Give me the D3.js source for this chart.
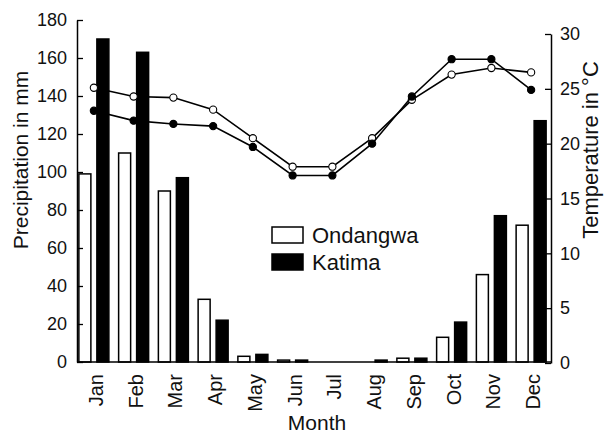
<!DOCTYPE html>
<html>
<head>
<meta charset="utf-8">
<script src="https://cdn.jsdelivr.net/npm/d3@7"></script>
<style>
  body { margin: 0; background: #fff; }
  text { font-family: "Liberation Sans", Arial, sans-serif; fill: #111; }
</style>
</head>
<body>
<svg width="605" height="433"></svg>
<script>
// data
var months = ["Jan", "Feb", "Mar", "Apr", "May", "Jun", "Jul", "Aug", "Sep", "Oct", "Nov", "Dec"];
var stations = ["Ondangwa", "Katima"];
var rainOndangwa = [99, 110, 90, 33, 3, 1, 0, 0, 2, 13, 46, 72];
var rainKatima = [170, 163, 97, 22, 4, 1, 0, 1, 2, 21, 77, 127];
var tempOndangwa = [25.1, 24.3, 24.2, 23.1, 20.5, 17.9, 17.9, 20.5, 24.0, 26.3, 26.9, 26.5];
var tempKatima = [23.0, 22.1, 21.8, 21.6, 19.7, 17.1, 17.1, 20.0, 24.3, 27.7, 27.7, 24.9];
var rainTicks = [0, 20, 40, 60, 80, 100, 120, 140, 160, 180];
var tempTicks = [0, 5, 10, 15, 20, 25, 30];

var svg = d3.select("svg");
var left = 77, right = 551, bottom = 362;

// scales
var x = d3.scaleBand().domain(months).range([74, right]);
var xs = d3.scaleBand().domain(stations)
    .range([x.bandwidth() / 2 - 15, x.bandwidth() / 2 + 15])
    .paddingInner(1 / 3);
var yRain = d3.scaleLinear().domain([0, 180]).range([bottom, 20]);
var yTemp = d3.scaleLinear().domain([0, 30]).range([bottom + 1, 34]);

var rows = months.map(function(m, i) {
  return { month: m, Ondangwa: rainOndangwa[i], Katima: rainKatima[i] };
});

// bars
var groups = svg.append("g").selectAll("g")
    .data(rows)
    .enter().append("g")
    .attr("transform", function(d) { return "translate(" + x(d.month) + ",0)"; });

groups.selectAll("rect")
    .data(function(d) { return stations.map(function(s) { return { key: s, value: d[s] }; }); })
    .enter().append("rect")
    .filter(function(d) { return d.value > 0; })
    .attr("x", function(d) { return xs(d.key); })
    .attr("width", xs.bandwidth())
    .attr("y", function(d) { return yRain(d.value); })
    .attr("height", function(d) { return bottom - yRain(d.value); })
    .attr("fill", function(d) { return d.key === "Katima" ? "#000" : "#fff"; })
    .attr("stroke", "#000")
    .attr("stroke-width", 1.5);

// temperature lines
var cx = function(d, i) { return x(months[i]) + x.bandwidth() / 2; };
var line = d3.line()
    .x(cx)
    .y(function(d) { return yTemp(d); });

[[tempOndangwa, "#fff"], [tempKatima, "#000"]].forEach(function(s) {
  svg.append("path")
      .datum(s[0])
      .attr("d", line)
      .attr("fill", "none")
      .attr("stroke", "#000")
      .attr("stroke-width", 1.6);
  svg.append("g").selectAll("circle")
      .data(s[0])
      .enter().append("circle")
      .attr("cx", cx)
      .attr("cy", function(d) { return yTemp(d); })
      .attr("r", 3.6)
      .attr("fill", s[1])
      .attr("stroke", "#000")
      .attr("stroke-width", 1.1);
});

// left axis, ticks point inward
var gl = svg.append("g").attr("transform", "translate(" + left + ",0)");
gl.call(d3.axisLeft(yRain).tickValues(d3.range(0, 181, 10)).tickFormat("").tickSize(-3).tickSizeOuter(0));
gl.call(d3.axisLeft(yRain).tickValues(rainTicks).tickSize(-6).tickSizeOuter(0).tickPadding(10));

// right axis
var gr = svg.append("g").attr("transform", "translate(" + right + ",0)");
gr.call(d3.axisRight(yTemp).tickValues(d3.range(0, 30.1, 2.5)).tickFormat("").tickSize(-3).tickSizeOuter(0));
gr.call(d3.axisRight(yTemp).tickValues(tempTicks).tickSize(-6).tickSizeOuter(0).tickPadding(9));

// bottom axis line and month labels
svg.append("line")
    .attr("x1", left).attr("x2", right)
    .attr("y1", bottom).attr("y2", bottom)
    .attr("stroke", "#000").attr("stroke-width", 1.5);

svg.append("g").selectAll("text")
    .data(months)
    .enter().append("text")
    .attr("transform", function(d) {
      return "translate(" + (x(d) + x.bandwidth() / 2 + 9) + "," + (bottom + 12) + ") rotate(-90)";
    })
    .attr("text-anchor", "end")
    .style("font-size", "20px")
    .text(function(d) { return d; });

svg.selectAll(".domain").attr("stroke-width", 1.5);
svg.selectAll(".tick line").attr("stroke-width", 1.3);
svg.selectAll(".tick text").style("font-size", "18px").attr("fill", "#111");

// axis titles
svg.append("text")
    .attr("x", 317).attr("y", 430)
    .attr("text-anchor", "middle")
    .style("font-size", "21px")
    .text("Month");

svg.append("text")
    .attr("transform", "translate(28,160) rotate(-90)")
    .attr("text-anchor", "middle")
    .style("font-size", "21px")
    .text("Precipitation in mm");

svg.append("text")
    .attr("transform", "translate(598,150) rotate(-90)")
    .attr("text-anchor", "middle")
    .style("font-size", "22px")
    .text("Temperature in °C");

// legend
var legend = svg.append("g").selectAll("g")
    .data(stations)
    .enter().append("g")
    .attr("transform", function(d, i) { return "translate(272," + (227 + i * 27) + ")"; });
legend.append("rect")
    .attr("width", 31).attr("height", 16)
    .attr("fill", function(d) { return d === "Katima" ? "#000" : "#fff"; })
    .attr("stroke", "#000").attr("stroke-width", 1.5);
legend.append("text")
    .attr("x", 40).attr("y", 16)
    .style("font-size", "22px")
    .text(function(d) { return d; });
</script>
</body>
</html>
